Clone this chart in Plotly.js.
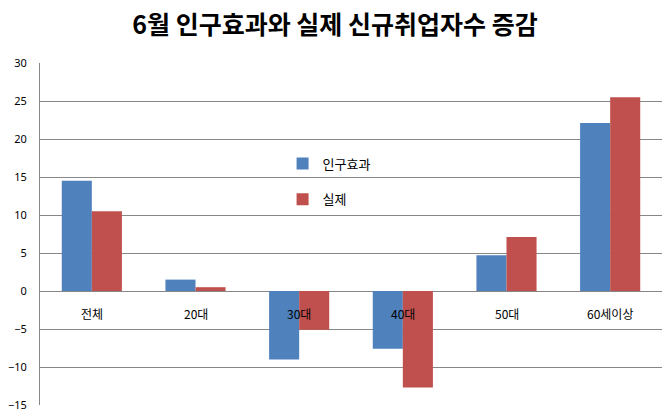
<!DOCTYPE html>
<html><head><meta charset="utf-8">
<script src="https://cdn.plot.ly/plotly-3.0.1.min.js"></script>
<style>body{margin:0;background:#fff}#c{width:670px;height:418px}</style>
</head><body><div id="c"></div>
<script>
const categories = ['전체','20대','30대','40대','50대','60세이상'];
const popEffect = [14.5, 1.5, -9.0, -7.6, 4.7, 22.1];
const actual = [10.5, 0.5, -5.1, -12.7, 7.1, 25.5];
const seriesNames = ['인구효과','실제'];
const yTicks = [-15,-10,-5,0,5,10,15,20,25,30];

const font = "'Noto Sans CJK KR', 'Noto Sans', sans-serif";
const traces = [
  {type:'bar', name:seriesNames[0], legendgroup:'a', x:categories, y:popEffect, marker:{color:'#4f81bd'}},
  {type:'bar', name:seriesNames[1], legendgroup:'b', x:categories, y:actual, marker:{color:'#c0504d'}}
];
const annotations = categories.map(c => ({
  x:c, y:0, xref:'x', yref:'y', text:c, showarrow:false,
  yanchor:'top', yshift:-12, font:{family:font, size:12, color:'#000'}
}));
const layout = {
  width:670, height:418,
  margin:{l:40, r:8, t:63, b:13},
  paper_bgcolor:'#fff', plot_bgcolor:'#fff',
  title:{text:'<b>6월 인구효과와 실제 신규취업자수 증감</b>', x:0.5, xanchor:'center', y:0.94, yanchor:'middle',
    font:{family:font, size:25, color:'#000'}},
  barmode:'group', bargap:0.42, bargroupgap:0,
  xaxis:{showticklabels:false, showgrid:false, zeroline:false, showline:false, ticks:''},
  yaxis:{range:[-15,30], tickvals:yTicks, showgrid:true, gridcolor:'#878787', gridwidth:1,
    zeroline:true, zerolinecolor:'#878787', zerolinewidth:1,
    showline:true, linecolor:'#878787', linewidth:1, ticks:'',
    tickfont:{family:"'Noto Sans', sans-serif", size:11, color:'#000'}, ticklabelstandoff:10},
  showlegend:true,
  legend:{x:0.39, y:0.75, xanchor:'left', yanchor:'top', bgcolor:'rgba(0,0,0,0)',
    font:{family:font, size:13, color:'#000'}, tracegroupgap:16, itemwidth:30},
  annotations:annotations
};
Plotly.newPlot('c', traces, layout, {displayModeBar:false});
</script></body></html>
